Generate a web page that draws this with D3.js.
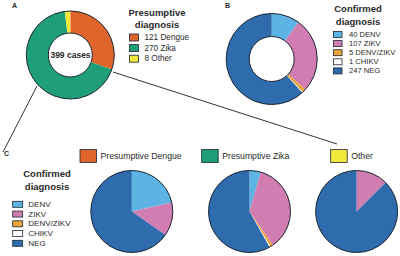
<!DOCTYPE html>
<html><head><meta charset="utf-8">
<script src="https://cdn.jsdelivr.net/npm/d3@7"></script>
<style>
html,body{margin:0;padding:0;background:#fff;}
svg{display:block;font-family:"Liberation Sans",Arial,sans-serif;}
</style></head>
<body><svg id="c" width="400" height="256"></svg>
<script>
// ---- data ----
const presumptiveLabels = ["Dengue", "Zika", "Other"];
const presumptiveCounts = [121, 270, 8];
const totalCases = 399;
const confirmedLabels = ["DENV", "ZIKV", "DENV/ZIKV", "CHIKV", "NEG"];
const confirmedCounts = [40, 107, 5, 1, 247];
const groupTitles = ["Presumptive Dengue", "Presumptive Zika", "Other"];
const dengueGroup = [26, 16, 0, 0, 79];
const zikaGroup = [12, 97, 3, 1, 157];
const otherGroup = [0, 1, 0, 0, 7];

// ---- styles ----
const presColors = ["#E0652D", "#1F9F78", "#F1E83B"];
const confColors = ["#5DB3E4", "#D27DB1", "#E9A43A", "#FFFFFF", "#2E6CAD"];
const outline = "#1c2633";
const txt = "#2a2a2a";

const svg = d3.select("#c");
const pie = d3.pie().sort(null).value(d => d);

function donut(cx, cy, rOut, rIn, values, colors) {
  const g = svg.append("g").attr("transform", `translate(${cx},${cy})`);
  const arc = d3.arc().innerRadius(rIn).outerRadius(rOut);
  g.selectAll("path").data(pie(values)).join("path")
    .attr("d", arc).attr("fill", (d, i) => colors[i]);
  g.append("circle").attr("r", rOut).attr("fill", "none").attr("stroke", outline).attr("stroke-width", 1);
  if (rIn > 0) g.append("circle").attr("r", rIn).attr("fill", "none").attr("stroke", outline).attr("stroke-width", 1);
  return g;
}

function legend(x, y, dy, labels, colors, sw, sh, fs, gap) {
  const g = svg.append("g").attr("transform", `translate(${x},${y})`);
  labels.forEach((l, i) => {
    g.append("rect").attr("x", 0).attr("y", i * dy - sh / 2).attr("width", sw).attr("height", sh)
      .attr("fill", colors[i]).attr("stroke", outline).attr("stroke-width", 0.8);
    g.append("text").attr("x", sw + gap).attr("y", i * dy).attr("dominant-baseline", "central")
      .attr("font-size", fs).attr("fill", txt).text(l);
  });
}

function title(x, y, lines, fs, lh) {
  lines.forEach((l, i) => {
    svg.append("text").attr("x", x).attr("y", y + i * lh).attr("text-anchor", "middle")
      .attr("dominant-baseline", "central").attr("font-size", fs).attr("font-weight", "bold")
      .attr("fill", txt).text(l);
  });
}

function panelLabel(x, y, t) {
  svg.append("text").attr("x", x).attr("y", y).attr("dominant-baseline", "central")
    .attr("font-size", 7).attr("font-weight", "bold").attr("fill", txt).text(t);
}

// connector lines
svg.append("line").attr("x1", 37).attr("y1", 86).attr("x2", 3).attr("y2", 152)
  .attr("stroke", "#333").attr("stroke-width", 1);
svg.append("line").attr("x1", 113).attr("y1", 72).attr("x2", 337).attr("y2", 144)
  .attr("stroke", "#333").attr("stroke-width", 1);

// Panel A
panelLabel(12, 5, "A");
donut(70.3, 55, 44, 22, presumptiveCounts, presColors);
svg.append("text").attr("x", 70.5).attr("y", 54.5).attr("text-anchor", "middle")
  .attr("dominant-baseline", "central").attr("font-size", 8.5).attr("font-weight", "bold")
  .attr("fill", txt).text(totalCases + " cases");
title(157, 12, ["Presumptive", "diagnosis"], 9.5, 12);
legend(129.5, 37.5, 10.6, presumptiveLabels.map((l, i) => presumptiveCounts[i] + " " + l),
  presColors, 9, 7, 8.2, 6);

// Panel B
panelLabel(225, 5, "B");
donut(271.7, 59, 45.5, 22.5, confirmedCounts, confColors);
title(358, 8.5, ["Confirmed", "diagnosis"], 9.5, 12.5);
legend(333.5, 34.5, 9.1, confirmedLabels.map((l, i) => confirmedCounts[i] + " " + l),
  confColors, 8.5, 6, 7.6, 7);

// Panel C
panelLabel(4, 153.5, "C");
title(47, 173.5, ["Confirmed", "diagnosis"], 9.5, 12.5);
legend(12.7, 204.3, 9.75, confirmedLabels, confColors, 10, 6, 8, 5.6);

const groups = [dengueGroup, zikaGroup, otherGroup];
const pieCx = [131.8, 249.5, 356.6];
const headX = [80, 201.7, 330.7];
groups.forEach((vals, i) => {
  donut(pieCx[i], 211.5, 41, 0, vals, confColors);
  svg.append("rect").attr("x", headX[i]).attr("y", 149.5).attr("width", 16.5).attr("height", 13)
    .attr("fill", presColors[i]).attr("stroke", outline).attr("stroke-width", 0.8);
  svg.append("text").attr("x", headX[i] + 20.5).attr("y", 156).attr("dominant-baseline", "central")
    .attr("font-size", 8.7).attr("fill", txt).text(groupTitles[i]);
});
</script></body></html>
